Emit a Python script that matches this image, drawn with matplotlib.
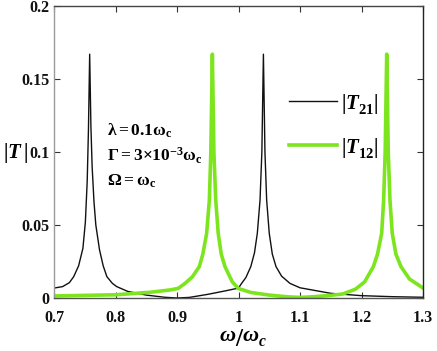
import matplotlib
matplotlib.use("Agg")
import matplotlib.pyplot as plt
from matplotlib.lines import Line2D

# ---- data ----
t21_x = [0.700, 0.714, 0.725, 0.732, 0.740, 0.747, 0.751, 0.754, 0.756, 0.758,
         0.760, 0.762, 0.765, 0.768, 0.774, 0.780, 0.786, 0.795, 0.802, 0.820,
         0.850, 0.880, 0.900, 0.920, 0.950, 0.980, 1.000, 1.005, 1.012, 1.020,
         1.026, 1.0306, 1.035, 1.038, 1.0405, 1.043, 1.0458, 1.050, 1.055, 1.061,
         1.070, 1.0837, 1.100, 1.150, 1.200, 1.250, 1.300]
t21_y = [0.0068, 0.0078, 0.0105, 0.0146, 0.022, 0.034, 0.052, 0.080, 0.115, 0.167,
         0.118, 0.090, 0.066, 0.050, 0.033, 0.022, 0.0146, 0.010, 0.0078, 0.0045,
         0.0020, 0.0005, 0.0000, 0.0004, 0.0025, 0.0050, 0.0068, 0.0100, 0.0140, 0.0215,
         0.031, 0.0443, 0.067, 0.100, 0.167, 0.100, 0.067, 0.0443, 0.030, 0.0215,
         0.015, 0.010, 0.0070, 0.0032, 0.0016, 0.0009, 0.0005]

t12_x = [0.700, 0.750, 0.800, 0.856, 0.8886, 0.902, 0.913, 0.925, 0.9363, 0.942,
         0.9482, 0.9526, 0.955, 0.9575, 0.960, 0.963, 0.967, 0.972, 0.978, 0.990,
         1.000, 1.020, 1.050, 1.080, 1.100, 1.120, 1.150, 1.170, 1.190, 1.205,
         1.2193, 1.226, 1.2328, 1.236, 1.2385, 1.241, 1.2435, 1.2463, 1.250, 1.256,
         1.2642, 1.278, 1.2924, 1.300]
t12_y = [0.0014, 0.0018, 0.0022, 0.0039, 0.0055, 0.0066, 0.010, 0.0145, 0.0215, 0.030,
         0.0443, 0.067, 0.100, 0.167, 0.100, 0.067, 0.0443, 0.030, 0.0215, 0.011,
         0.0065, 0.0038, 0.0020, 0.0008, 0.0004, 0.0008, 0.0018, 0.0028, 0.0060, 0.011,
         0.0215, 0.030, 0.0443, 0.067, 0.100, 0.167, 0.100, 0.067, 0.0443, 0.030,
         0.0215, 0.013, 0.0090, 0.0068]

x_ticks = [0.7, 0.8, 0.9, 1.0, 1.1, 1.2, 1.3]
x_ticklabels = ["0.7", "0.8", "0.9", "1", "1.1", "1.2", "1.3"]
y_ticks = [0, 0.05, 0.1, 0.15, 0.2]
y_ticklabels = ["0", "0.05", "0.1", "0.15", "0.2"]
series_labels = [r"$\left|T^{\,}_{21}\right|$", r"$\left|T^{\,}_{12}\right|$"]

plt.rcParams["font.family"] = ["Liberation Serif", "DejaVu Serif"]
plt.rcParams["font.weight"] = "bold"
plt.rcParams["mathtext.fontset"] = "custom"
plt.rcParams["mathtext.rm"] = "Liberation Serif:bold"
plt.rcParams["mathtext.it"] = "Liberation Serif:italic:bold"
plt.rcParams["mathtext.bf"] = "Liberation Serif:bold"

fig = plt.figure(figsize=(4.37, 3.51), dpi=100)
ax = fig.add_axes([54/437, 53/351, 369/437, 292/351])

black = "#111111"
green = "#7CE51E"
ax.plot(t21_x, t21_y, color=black, lw=1.0)
ax.plot(t12_x, t12_y, color=green, lw=2.6)

ax.set_xlim(0.7, 1.3)
ax.set_ylim(0, 0.2)
ax.set_xticks(x_ticks)
ax.set_xticklabels(x_ticklabels)
ax.set_yticks(y_ticks)
ax.set_yticklabels(y_ticklabels)
ax.tick_params(direction="in", top=True, right=True, length=4, width=0.8,
               labelsize=11.5, colors="#333333", labelcolor="#111111")
ax.tick_params(axis="x", pad=9)
ax.tick_params(axis="y", pad=3)
for side, c in [("left", "#9a9a9a"), ("bottom", "#555555"), ("top", "#444444"), ("right", "#222222")]:
    ax.spines[side].set_color(c)
    ax.spines[side].set_linewidth(1.0)

fig.text(16/437, 1 - 153/351, r"$\left|T^{\,}_{\,}\right|$", fontsize=15, ha="center", va="center")
fig.text(243/437, 1 - 337/351, r"$\omega\left/\omega^{\,}_c\right.$", fontsize=16, ha="center", va="center")

ann = [r"$\mathrm{\lambda} = 0.1\mathrm{\omega_c}$",
       r"$\Gamma = 3{\times}10^{-3}\mathrm{\omega_c}$",
       r"$\Omega = \mathrm{\omega_c}$"]
for i, s in enumerate(ann):
    fig.text(107/437, 1 - (131 + 25 * i)/351, s, fontsize=12.5, ha="left", va="center")

handles = [Line2D([], [], color=black, lw=1.0), Line2D([], [], color=green, lw=2.6)]
ax.legend(handles, series_labels, loc="upper left", bbox_to_anchor=(0.615, 0.735),
          frameon=False, fontsize=15, handlelength=2.3, handletextpad=0.2,
          labelspacing=0.95, borderaxespad=0)

fig.savefig("out.png", dpi=100)
